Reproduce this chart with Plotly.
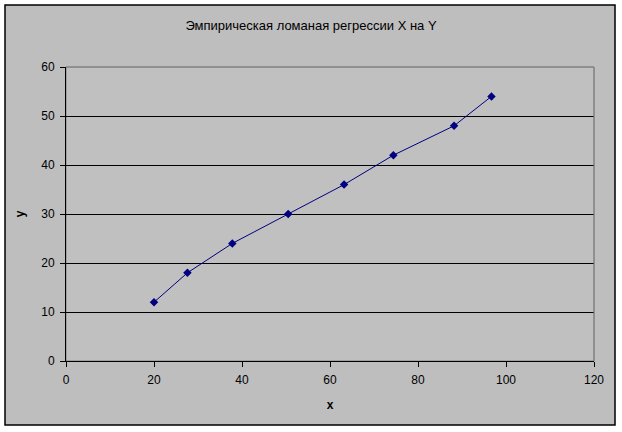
import plotly.graph_objects as go

x_vals = [20, 27.6, 37.8, 50.5, 63.2, 74.4, 88.2, 96.7]
y_vals = [12, 18, 24, 30, 36, 42, 48, 54]
x_ticks = [0, 20, 40, 60, 80, 100, 120]
y_ticks = [0, 10, 20, 30, 40, 50, 60]
title_text = "Эмпирическая ломаная регрессии X на Y"

W, H = 622, 432
ML, MR, MT, MB = 66, 28, 67, 71
pw, ph = W - ML - MR, H - MT - MB

def px_x(p):
    return (p - ML) / pw

def px_y(p):
    return (H - MB - p) / ph

fig = go.Figure()
fig.add_trace(go.Scatter(
    x=x_vals, y=y_vals, mode="lines+markers",
    line=dict(color="#000080", width=1),
    marker=dict(symbol="diamond", size=6.5, color="#000080"),
    showlegend=False,
))

font = "Liberation Sans, Arial, sans-serif"
fig.update_layout(
    width=W, height=H,
    margin=dict(l=ML, r=MR, t=MT, b=MB),
    paper_bgcolor="white",
    plot_bgcolor="#C0C0C0",
    font=dict(family=font, size=12, color="black"),
    title=dict(text=title_text, x=0.5, xref="container", xanchor="center",
               y=1 - 25 / H, yref="container", yanchor="middle",
               font=dict(size=13, family=font, color="black")),
    xaxis=dict(range=[0, 120], tickvals=x_ticks, showgrid=False, zeroline=False,
               showline=True, linecolor="black", linewidth=1,
               ticks="outside", ticklen=5, tickcolor="black", ticklabelstandoff=3,
               title=dict(text="<b>x</b>", standoff=14, font=dict(size=12)),
               fixedrange=True),
    yaxis=dict(range=[0, 60], tickvals=y_ticks, showgrid=True, gridcolor="black",
               gridwidth=1, zeroline=False,
               showline=True, linecolor="black", linewidth=1,
               ticks="outside", ticklen=5, tickcolor="black", ticklabelstandoff=3,
               title=dict(text="<b>y</b>", standoff=14, font=dict(size=12)),
               fixedrange=True),
    shapes=[
        dict(type="rect", xref="paper", yref="paper",
             x0=px_x(5), x1=px_x(615), y0=px_y(425), y1=px_y(5),
             fillcolor="#BEBEBE", line=dict(color="black", width=1.5), layer="below"),
        dict(type="rect", xref="x domain", yref="y domain",
             x0=0, x1=1, y0=0, y1=1,
             fillcolor="#C0C0C0", line=dict(color="#808080", width=1), layer="below"),
        dict(type="line", xref="x domain", yref="y domain",
             x0=0, x1=1, y0=1, y1=1,
             line=dict(color="#808080", width=1), layer="above"),
        dict(type="line", xref="x domain", yref="y domain",
             x0=1, x1=1, y0=0, y1=1,
             line=dict(color="#808080", width=1), layer="above"),
    ],
)

fig.write_html("out.html", config={"displayModeBar": False},
               post_script="document.body.style.margin='0';document.body.style.padding='0';")
